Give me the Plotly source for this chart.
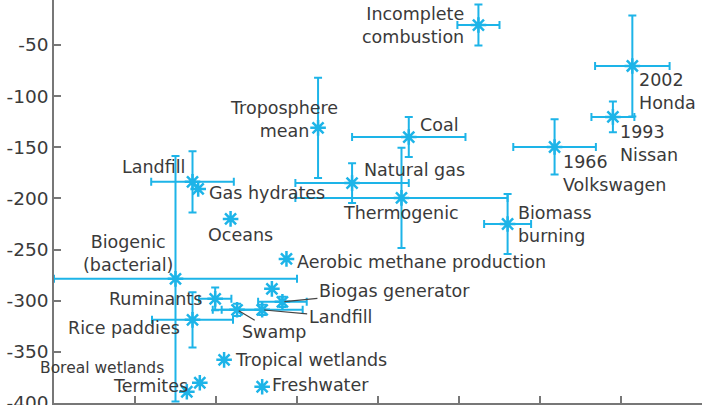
import plotly.graph_objects as go

# ---- data ----
sources = ["Incomplete<br>combustion", "Troposphere<br>mean", "Coal", "Natural gas",
           "Thermogenic", "Biomass<br>burning", "1966<br>Volkswagen", "1993<br>Nissan",
           "2002<br>Honda", "Landfill", "Gas hydrates", "Oceans",
           "Aerobic methane production", "Biogenic<br>(bacterial)", "Ruminants", "Swamp",
           "Landfill", "Biogas generator", "", "Rice paddies",
           "Tropical wetlands", "Freshwater", "Boreal wetlands", "Termites"]
x_val = [52.4, 32.6, 43.8, 36.8, 42.9, 56.0, 61.8, 69.0, 71.4, 17.1, 17.8, 21.8,
         28.7, 15.0, 19.9, 22.6, 25.7, 28.2, 26.9, 17.1, 21.0, 25.7, 18.0, 16.4]
y_val = [-30.5, -131, -140, -185, -199.5, -225, -149.7, -120.3, -70.5, -183.8, -190.7, -220,
         -259.1, -278.6, -298.2, -308.9, -308.9, -301.1, -288.4, -318.7, -357.8, -384.1, -380.2, -389]
x_err = [2.6, 0, 7, 7, 13.1, 2.9, 5.1, 2.65, 4.6, 5.1, 0, 0,
         0, 15, 2, 3, 5, 3, 0, 5, 0, 0, 0, 0]
y_err = [20, 49, 19.6, 19.5, 49, 29.3, 27, 15, 49.3, 30, 0, 0,
         0, 120, 11, 6, 5, 5, 0, 27, 0, 0, 0, 0]
y_tickvals = [-50, -100, -150, -200, -250, -300, -350, -400]
y_ticktext = ["-50", "-100", "-150", "-200", "-250", "-300", "-350", "-400"]
x_tickvals = [10, 20, 30, 40, 50, 60, 70, 80]

# ---- label placement (pixel offsets from the point) ----
place = {
    0: ("right", -12, 0, "right"),
    1: ("center", -34, 8, "center"),
    2: ("left", 9, 12, "left"),
    3: ("left", 10, 13, "left"),
    4: ("center", 0, -15, "center"),
    5: ("left", 8, 0, "left"),
    6: ("left", 6, -27, "left"),
    7: ("left", 5, -27, "left"),
    8: ("left", 5, -26, "left"),
    9: ("right", -6, 15, "right"),
    10: ("left", 9, -4, "left"),
    11: ("center", 10, -16, "center"),
    12: ("left", 9, -3, "left"),
    13: ("center", -48, 25, "center"),
    14: ("right", -11, 0, "right"),
    19: ("right", -11, -8, "right"),
    20: ("left", 9, 0, "left"),
    21: ("left", 8, 2, "left"),
    22: ("right", -34, 15, "right"),
    23: ("right", 3, 6, "right"),
}
leaders = {15: (37, 22), 16: (78, 7), 17: (112, -11)}
size_override = {22: 15.5}

BLUE = "#1db4e8"
TXT = "#3a3a3a"
FONT = "DejaVu Sans"
FS = 17.5

fig = go.Figure()
for i in range(len(x_val)):
    tr = dict(x=[x_val[i]], y=[y_val[i]], mode="markers",
              marker=dict(symbol="asterisk-open", size=13, color=BLUE,
                          line=dict(color=BLUE, width=2.5)),
              showlegend=False, hoverinfo="skip", cliponaxis=False)
    if x_err[i] > 0:
        tr["error_x"] = dict(type="data", array=[x_err[i]], color=BLUE, thickness=2, width=4)
    if y_err[i] > 0:
        tr["error_y"] = dict(type="data", array=[y_err[i]], color=BLUE, thickness=2, width=4)
    fig.add_trace(go.Scatter(**tr))

ann = []
for i, name in enumerate(sources):
    if not name:
        continue
    fnt = dict(family=FONT, size=size_override.get(i, FS), color=TXT)
    if i in leaders:
        ax, ay = leaders[i]
        ann.append(dict(x=x_val[i], y=y_val[i], text=name, showarrow=True,
                        arrowhead=0, arrowwidth=1.2, arrowcolor="#444", ax=ax, ay=ay,
                        standoff=2, font=fnt))
    else:
        xa, xs, ys, al = place[i]
        ann.append(dict(x=x_val[i], y=y_val[i], text=name, showarrow=False,
                        xanchor=xa, yanchor="middle", xshift=xs, yshift=ys, align=al,
                        font=fnt))

Y_LO, Y_HI = -400, -6
# partially visible "0" tick label at the top edge (value 0 lies just above the plot)
ann.append(dict(xref="paper", yref="paper", x=0, y=(0 - Y_LO) / (Y_HI - Y_LO),
                text="0", showarrow=False, xanchor="right", yanchor="middle", xshift=-4,
                font=dict(family=FONT, size=18.5, color=TXT)))

fig.update_layout(
    width=720, height=405,
    margin=dict(l=54, r=18, t=0, b=2, autoexpand=False),
    paper_bgcolor="white", plot_bgcolor="white",
    annotations=ann,
    xaxis=dict(range=[0, 80], tickvals=x_tickvals, showticklabels=False, automargin=False,
               ticks="inside", ticklen=7, tickwidth=1.5, tickcolor="#777",
               showline=True, linecolor="#777", linewidth=1.5, showgrid=False, zeroline=False),
    yaxis=dict(range=[Y_LO, Y_HI], tickvals=y_tickvals, ticktext=y_ticktext, automargin=False,
               ticks="inside", ticklen=7, tickwidth=1.5, tickcolor="#777",
               ticklabeloverflow="allow",
               tickfont=dict(family=FONT, size=18.5, color=TXT),
               showline=True, linecolor="#777", linewidth=1.5, showgrid=False, zeroline=False),
)
fig.write_html("out.html", config={"displayModeBar": False},
               post_script="document.body.style.margin='0';document.body.style.overflow='hidden';")
